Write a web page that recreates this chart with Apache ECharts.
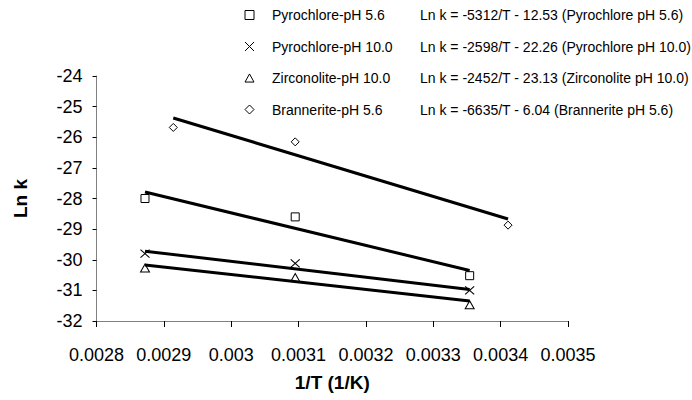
<!DOCTYPE html>
<html>
<head>
<meta charset="utf-8">
<script src="https://cdn.jsdelivr.net/npm/echarts@6/dist/echarts.min.js"></script>
<style>html,body{margin:0;padding:0;background:#fff}#c{width:692px;height:400px}</style>
</head>
<body>
<div id="c"></div>
<script>
// Data
const seriesNames = ['Pyrochlore-pH 5.6', 'Pyrochlore-pH 10.0', 'Zirconolite-pH 10.0', 'Brannerite-pH 5.6'];
const equations = [
  'Ln k = -5312/T - 12.53 (Pyrochlore pH 5.6)',
  'Ln k = -2598/T - 22.26 (Pyrochlore pH 10.0)',
  'Ln k = -2452/T - 23.13 (Zirconolite pH 10.0)',
  'Ln k = -6635/T - 6.04 (Brannerite pH 5.6)'
];
const invTPyro = [0.002872, 0.003095, 0.003354];
const invTBrann = [0.002914, 0.003095, 0.003411];
const pyro56 = [-28.0, -28.6, -30.52];
const pyro10 = [-29.8, -30.12, -31.0];
const zirc10 = [-30.27, -30.58, -31.47];
const brann56 = [-25.68, -26.15, -28.87];
// trendline end points (x range of each data set)
const fitPyro56 = [-27.79, -30.35];
const fitPyro10 = [-29.72, -30.97];
const fitZirc10 = [-30.17, -31.35];
const fitBrann56 = [-25.37, -28.67];
const xMin = 0.0028, xMax = 0.0035, xStep = 0.0001;
const yMin = -32, yMax = -24, yStep = 1;

const FONT = '"Liberation Sans", Arial, Helvetica, sans-serif';
const symbols = [
  {symbol: 'path://M0,0L10,0L10,10L0,10Z', size: [8, 8]},
  {symbol: 'path://M0,0L10,10M10,0L0,10', size: [9, 8]},
  {symbol: 'path://M5,0L10,9L0,9Z', size: [9, 8]},
  {symbol: 'path://M5,0L10,5L5,10L0,5Z', size: [8, 8]}
];
const pointSets = [
  [invTPyro, pyro56], [invTPyro, pyro10], [invTPyro, zirc10], [invTBrann, brann56]
];
const fitSets = [
  [invTPyro, fitPyro56], [invTPyro, fitPyro10], [invTPyro, fitZirc10], [invTBrann, fitBrann56]
];

const series = [];
fitSets.forEach(function (fs, i) {
  const xs = fs[0];
  series.push({
    name: 'fit' + i,
    type: 'line',
    data: [[xs[0], fs[1][0]], [xs[xs.length - 1], fs[1][1]]],
    showSymbol: false,
    symbol: 'none',
    lineStyle: {color: '#000', width: 3},
    silent: true,
    z: 3
  });
});
pointSets.forEach(function (ps, i) {
  series.push({
    name: seriesNames[i],
    type: 'scatter',
    data: ps[0].map(function (x, j) { return [x, ps[1][j]]; }),
    symbol: symbols[i].symbol,
    symbolSize: symbols[i].size,
    itemStyle: {color: '#fff', borderColor: '#000', borderWidth: 1, opacity: 1},
    z: 2
  });
});

const chart = echarts.init(document.getElementById('c'), null, {renderer: 'svg'});
chart.setOption({
  animation: false,
  backgroundColor: '#fff',
  textStyle: {fontFamily: FONT, color: '#000'},
  grid: {left: 96.5, right: 124, top: 76, bottom: 79, containLabel: false},
  legend: {
    data: seriesNames,
    orient: 'vertical',
    left: 244.5,
    top: 7,
    padding: 0,
    itemWidth: 9,
    itemHeight: 9,
    itemGap: 15.5,
    selectedMode: false,
    itemStyle: {borderWidth: 1, borderColor: '#000', color: '#fff'},
    formatter: function (name) {
      const i = seriesNames.indexOf(name);
      return '{s| }{n|' + name + '}{e|' + equations[i] + '}';
    },
    textStyle: {
      fontFamily: FONT, fontSize: 14, color: '#000', lineHeight: 16,
      rich: {
        s: {width: 13, fontSize: 14, lineHeight: 16, fontFamily: FONT},
        n: {width: 148, fontSize: 14, lineHeight: 16, fontFamily: FONT, color: '#000'},
        e: {fontSize: 14, lineHeight: 16, fontFamily: FONT, color: '#000'}
      }
    }
  },
  xAxis: {
    type: 'value',
    min: xMin, max: xMax, interval: xStep,
    name: '1/T (1/K)',
    nameLocation: 'middle',
    nameGap: 52,
    nameTextStyle: {fontFamily: FONT, fontSize: 19, fontWeight: 'bold', color: '#000'},
    axisLine: {onZero: false, lineStyle: {color: '#808080', width: 1}},
    axisTick: {show: true, length: 6, lineStyle: {color: '#000'}},
    axisLabel: {fontFamily: FONT, fontSize: 18, color: '#000', margin: 25},
    splitLine: {show: false}
  },
  yAxis: {
    type: 'value',
    min: yMin, max: yMax, interval: yStep,
    name: 'Ln k',
    nameLocation: 'middle',
    nameRotate: 90,
    nameGap: 67,
    nameTextStyle: {fontFamily: FONT, fontSize: 19, fontWeight: 'bold', color: '#000'},
    axisLine: {show: true, lineStyle: {color: '#808080', width: 1}},
    axisTick: {show: true, length: 4, lineStyle: {color: '#000'}},
    axisLabel: {fontFamily: FONT, fontSize: 18, color: '#000', margin: 14},
    splitLine: {show: false}
  },
  series: series
});
</script>
</body>
</html>
